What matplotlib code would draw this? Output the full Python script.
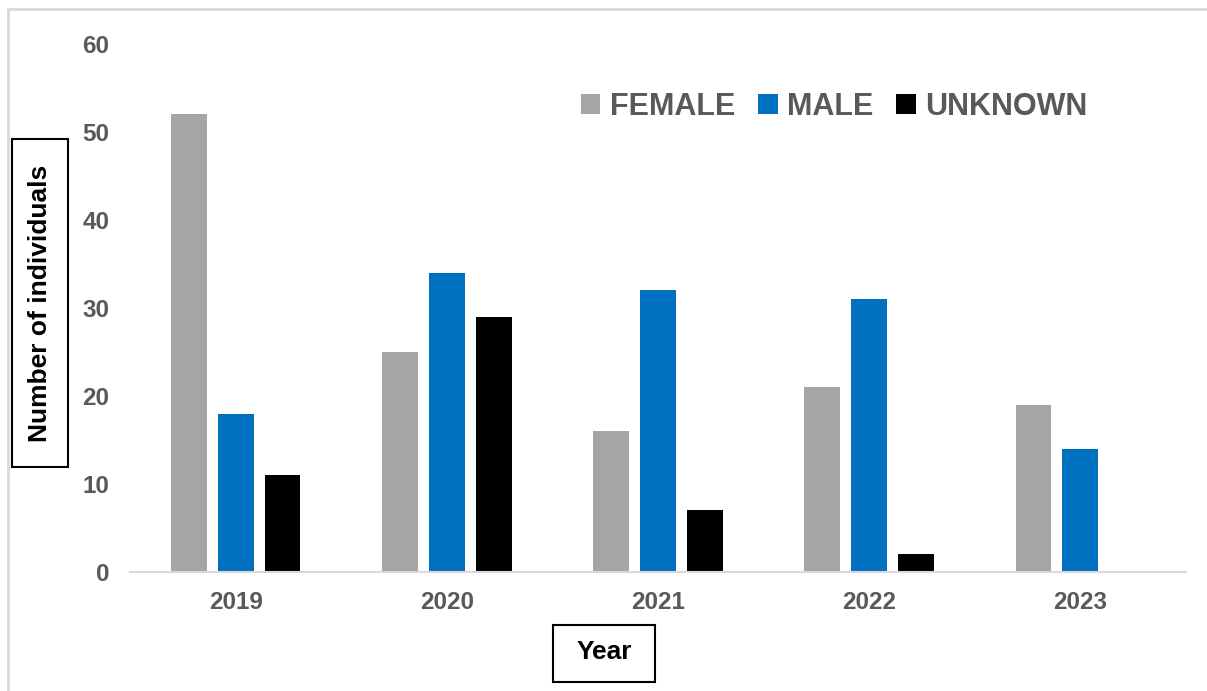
import numpy as np
import matplotlib
matplotlib.use('Agg')
import matplotlib.pyplot as plt
from matplotlib.patches import Rectangle

plt.rcParams['font.family'] = ['Liberation Sans', 'DejaVu Sans']
plt.rcParams['font.weight'] = 'bold'

#
# Data
#
years = ['2019', '2020', '2021', '2022', '2023']
female = [52, 25, 16, 21, 19]
male = [18, 34, 32, 31, 14]
unknown = [11, 29, 7, 2, 0]

W, H = 1207, 691
fig = plt.figure(figsize=(W / 100, H / 100), dpi=100)
ax = fig.add_axes([130 / W, 1 - 572 / H, 1056 / W, 528 / H])

x = np.arange(len(years))
bw = 0.17
off = 0.222
ax.bar(x - off, female, bw, color='#a5a5a5', label='FEMALE')
ax.bar(x, male, bw, color='#0070c0', label='MALE')
ax.bar(x + off, unknown, bw, color='#000000', label='UNKNOWN')

ax.set_xlim(-0.5, len(years) - 0.5)
ax.set_ylim(0, 60)
ax.set_yticks(range(0, 61, 10))
ax.set_xticks(x)
ax.set_xticklabels(years)
ax.tick_params(axis='both', length=0, labelsize=17.5, labelcolor='#595959')
ax.tick_params(axis='y', pad=15)
ax.tick_params(axis='x', pad=14)
for s in ['top', 'right', 'left']:
    ax.spines[s].set_visible(False)
ax.spines['bottom'].set_color('#d9d9d9')
ax.spines['bottom'].set_linewidth(1.5)

# axis titles in boxes
fig.text(40 / W, 1 - 303 / H, 'Number of individuals', rotation=90,
         ha='center', va='center', fontsize=19, color='black')
fig.patches.append(Rectangle((12 / W, 1 - 467 / H), 56 / W, 328 / H,
                             transform=fig.transFigure, fill=False,
                             ec='black', lw=1.5))
fig.text(604 / W, 1 - 652 / H, 'Year', ha='center', va='center',
         fontsize=19, color='black')
fig.patches.append(Rectangle((553 / W, 1 - 682 / H), 102 / W, 57 / H,
                             transform=fig.transFigure, fill=False,
                             ec='black', lw=1.5))

leg = ax.legend(loc='center left', bbox_to_anchor=(553 / W, 1 - 107 / H),
                bbox_transform=fig.transFigure, ncol=3, frameon=False,
                fontsize=22, handlelength=0.65, handleheight=0.65,
                handletextpad=0.3, columnspacing=0.75)
for t in leg.get_texts():
    t.set_color('#595959')

# outer chart frame
fig.patches.append(Rectangle((8 / W, -0.1), 1.2, 1 - 9 / H + 0.1,
                             transform=fig.transFigure, fill=False,
                             ec='#d9d9d9', lw=2))

fig.savefig('out.png', dpi=100, facecolor='white')
